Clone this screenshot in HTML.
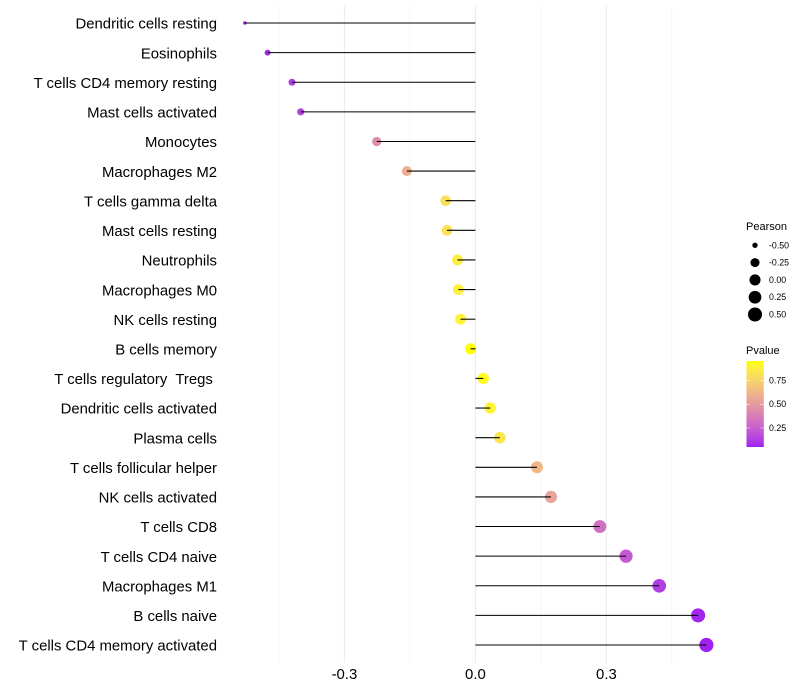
<!DOCTYPE html>
<html>
<head>
<meta charset="utf-8">
<title>Lollipop chart</title>
<style>
html,body{margin:0;padding:0;background:#fff;}
svg{display:block;font-family:"Liberation Sans",Arial,sans-serif;}
text{white-space:pre;}
</style>
</head>
<body>
<svg id="chart" width="800" height="700" viewBox="0 0 800 700" xmlns="http://www.w3.org/2000/svg">
  <g id="grid"></g>
  <g id="ylabels"></g>
  <g id="xlabels"></g>
  <g id="points"></g>
  <g id="stems"></g>
  <g id="size-legend">
    <text x="746" y="230" font-size="11" fill="#000">Pearson</text>
  </g>
  <g id="color-legend">
    <text x="746" y="354" font-size="11" fill="#000">Pvalue</text>
  </g>
</svg>
<script>
const categories = ["Dendritic cells resting","Eosinophils","T cells CD4 memory resting","Mast cells activated","Monocytes","Macrophages M2","T cells gamma delta","Mast cells resting","Neutrophils","Macrophages M0","NK cells resting","B cells memory","T cells regulatory  Tregs ","Dendritic cells activated","Plasma cells","T cells follicular helper","NK cells activated","T cells CD8","T cells CD4 naive","Macrophages M1","B cells naive","T cells CD4 memory activated"];
const pearson = [-0.528,-0.476,-0.42,-0.40,-0.226,-0.157,-0.068,-0.065,-0.041,-0.039,-0.034,-0.011,0.018,0.034,0.056,0.141,0.173,0.285,0.345,0.421,0.51,0.529];
const pvalue = [0.05,0.08,0.13,0.15,0.44,0.59,0.81,0.82,0.88,0.89,0.90,0.955,0.94,0.90,0.84,0.63,0.54,0.32,0.23,0.13,0.06,0.05];
const xTicks = [-0.3,0,0.3];
const xMinorTicks = [-0.45,-0.15,0.15,0.45];
const sizeKeys = [-0.5,-0.25,0,0.25,0.5];
const colorKeys = [0.25,0.5,0.75];

const NS = "http://www.w3.org/2000/svg";
function mk(parent, tag, attrs) {
  const el = document.createElementNS(NS, tag);
  for (const k in attrs) el.setAttribute(k, attrs[k]);
  parent.appendChild(el);
  return el;
}
const xScale = v => 475.4 + v * (131 / 0.3);
const yScale = i => 23 + i * ((645 - 23) / (categories.length - 1));
const pearsonMin = Math.min(...pearson), pearsonMax = Math.max(...pearson);
const pMin = Math.min(...pvalue), pMax = Math.max(...pvalue);
const sizeScale = v => {
  const t = Math.max(0, (v - pearsonMin) / (pearsonMax - pearsonMin));
  return 1.8 + 5.3 * Math.sqrt(t);
};
function toLab(c) {
  const l = c.map(u => { u /= 255; return u > 0.04045 ? Math.pow((u + 0.055) / 1.055, 2.4) : u / 12.92; });
  const X = (0.4124 * l[0] + 0.3576 * l[1] + 0.1805 * l[2]) / 0.95047;
  const Y = 0.2126 * l[0] + 0.7152 * l[1] + 0.0722 * l[2];
  const Z = (0.0193 * l[0] + 0.1192 * l[1] + 0.9505 * l[2]) / 1.08883;
  const f = t => t > 0.008856 ? Math.cbrt(t) : 7.787 * t + 16 / 116;
  return [116 * f(Y) - 16, 500 * (f(X) - f(Y)), 200 * (f(Y) - f(Z))];
}
function fromLab(L) {
  const fy = (L[0] + 16) / 116, fx = fy + L[1] / 500, fz = fy - L[2] / 200;
  const g = t => t * t * t > 0.008856 ? t * t * t : (t - 16 / 116) / 7.787;
  const X = g(fx) * 0.95047, Y = g(fy), Z = g(fz) * 1.08883;
  const rgb = [3.2406 * X - 1.5372 * Y - 0.4986 * Z, -0.9689 * X + 1.8758 * Y + 0.0415 * Z, 0.0557 * X - 0.204 * Y + 1.057 * Z];
  return "rgb(" + rgb.map(u => {
    u = Math.max(0, Math.min(1, u));
    u = u > 0.0031308 ? 1.055 * Math.pow(u, 1 / 2.4) - 0.055 : 12.92 * u;
    return Math.round(u * 255);
  }).join(",") + ")";
}
const labLow = toLab([160, 32, 240]), labHigh = toLab([255, 255, 0]);
const colorScale = p => {
  const t = Math.max(0, Math.min(1, (p - pMin) / (pMax - pMin)));
  return fromLab(labLow.map((a, i) => a + (labHigh[i] - a) * t));
};

const grid = document.getElementById("grid");
const top_ = 5.5, bottom_ = 662.8;
xMinorTicks.forEach(v => {
  const el = mk(grid, "line", {x1: xScale(v), x2: xScale(v), y1: top_, y2: bottom_, stroke: "#ebebeb", "stroke-width": 0.55});
  
  
});
xTicks.forEach(v => {
  const el = mk(grid, "line", {x1: xScale(v), x2: xScale(v), y1: top_, y2: bottom_, stroke: "#ebebeb", "stroke-width": 1.07});
  
  
});

const ylabels = document.getElementById("ylabels");
categories.forEach((c, i) => {
  const el = mk(ylabels, "text", {x: 217, y: yScale(i) + 5.7, "text-anchor": "end", "font-size": 14.9, fill: "#000"});
  el.textContent = c;
  
  
});

const xlabels = document.getElementById("xlabels");
xTicks.forEach(v => {
  const el = mk(xlabels, "text", {x: xScale(v), y: 679, "text-anchor": "middle", "font-size": 14.9, fill: "#000"});
  el.textContent = v.toFixed(1);
  
  
});

const points = document.getElementById("points");
const stems = document.getElementById("stems");
categories.forEach((c, i) => {
  const dot = mk(points, "circle", {cx: xScale(pearson[i]), cy: yScale(i), r: sizeScale(pearson[i]), fill: colorScale(pvalue[i])});
  
  
  const stem = mk(stems, "line", {x1: xScale(0), x2: xScale(pearson[i]), y1: yScale(i), y2: yScale(i), stroke: "#000", "stroke-width": 1.07});
  
  
});

const sizeLegend = document.getElementById("size-legend");
const sizeLegendY = i => 245.3 + i * 17.3;
sizeKeys.forEach((k, i) => {
  const dot = mk(sizeLegend, "circle", {cx: 755, cy: sizeLegendY(i), r: sizeScale(k), fill: "#000"});
  
  
  const label = mk(sizeLegend, "text", {x: 769, y: sizeLegendY(i) + 3, "font-size": 8.8, fill: "#000"});
  label.textContent = k.toFixed(2);
  
  
});

const colorLegend = document.getElementById("color-legend");
const barTop = 361, barBottom = 447, barLeft = 746.5, barRight = 763.8;
const barY = p => barBottom - (p - pMin) / (pMax - pMin) * (barBottom - barTop);
const defs = mk(colorLegend, "defs", {});
const grad = mk(defs, "linearGradient", {id: "pvalue-gradient", x1: 0, y1: 1, x2: 0, y2: 0});
for (let s = 0; s <= 20; s++) {
  mk(grad, "stop", {offset: s / 20, "stop-color": colorScale(pMin + (pMax - pMin) * s / 20)});
}
const bar = mk(colorLegend, "rect", {x: barLeft, y: barTop, width: barRight - barLeft, height: barBottom - barTop, fill: "url(#pvalue-gradient)"});


colorKeys.forEach(k => {
  const y = barY(k);
  const t1 = mk(colorLegend, "line", {x1: barLeft, x2: barLeft + 3.5, y1: y, y2: y, stroke: "#fff", "stroke-width": 0.5});
  
  
  const t2 = mk(colorLegend, "line", {x1: barRight - 3.5, x2: barRight, y1: y, y2: y, stroke: "#fff", "stroke-width": 0.5});
  
  
  const label = mk(colorLegend, "text", {x: 769, y: y + 3, "font-size": 8.8, fill: "#000"});
  label.textContent = k.toFixed(2);
  
  
});
</script>
</body>
</html>
